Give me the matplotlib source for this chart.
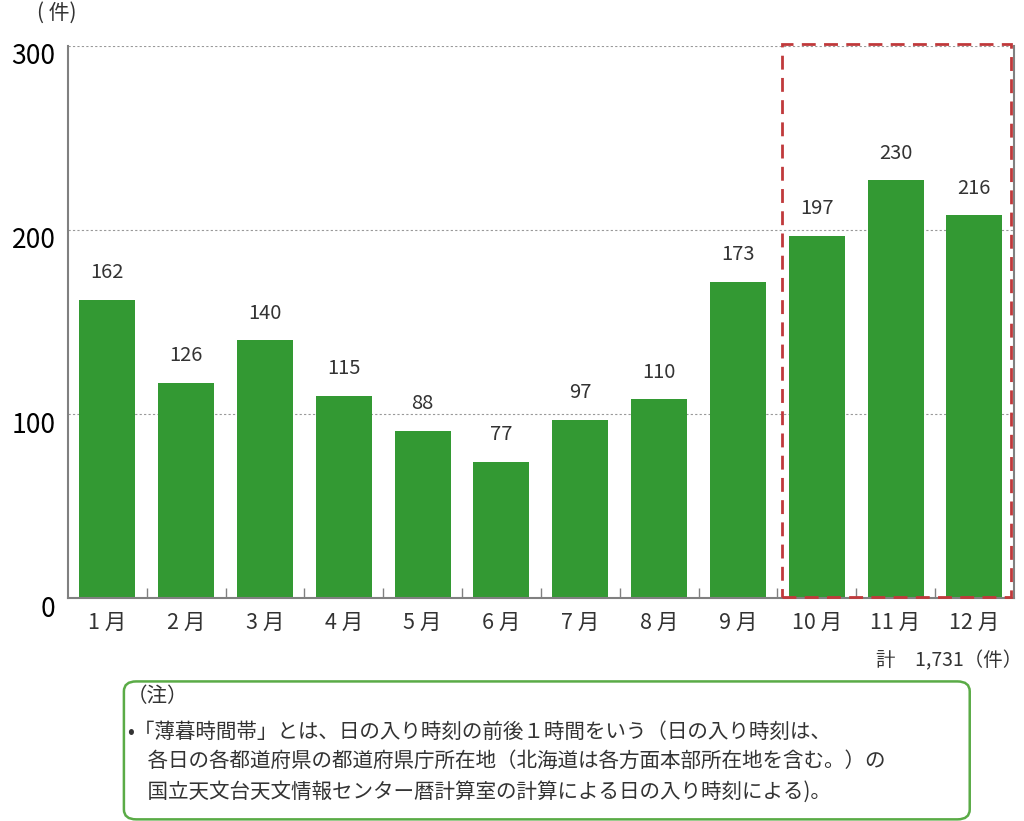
import matplotlib.pyplot as plt
from matplotlib.patches import Rectangle, FancyBboxPatch
from matplotlib.transforms import ScaledTranslation

plt.rcParams['font.family'] = ['Noto Sans CJK JP', 'DejaVu Sans']

months = ["1 月", "2 月", "3 月", "4 月", "5 月", "6 月",
          "7 月", "8 月", "9 月", "10 月", "11 月", "12 月"]
counts = [162, 126, 140, 115, 88, 77, 97, 110, 173, 197, 230, 216]
# bar heights as drawn in the source picture
heights = [162, 117, 140, 110, 91, 74, 97, 108, 172, 197, 227, 208]
yticks = [0, 100, 200, 300]
note_lines = [
    "（注）",
    "•「薄暮時間帯」とは、日の入り時刻の前後１時間をいう（日の入り時刻は、",
    "　各日の各都道府県の都道府県庁所在地（北海道は各方面本部所在地を含む。）の",
    "　国立天文台天文情報センター暦計算室の計算による日の入り時刻による)。",
]

green = "#339933"
grey = "#808080"

fig = plt.figure(figsize=(10.24, 8.21), dpi=100)
ax = fig.add_axes([0.0664, 0.2716, 0.9236, 0.6724])

x = list(range(len(months)))
ax.bar(x, heights, width=0.71, color=green, zorder=2)
for i, h in enumerate(heights):
    ax.text(i, h + 9, str(counts[i]), ha="center", va="bottom",
            fontsize=14.5, color="#333333")

ax.set_xlim(-0.5, 11.5)
ax.set_ylim(0, 300)
ax.set_yticks(yticks)
ax.set_yticklabels([str(v) for v in yticks], fontsize=19)
ax.tick_params(axis="y", length=0, pad=9)
shift = ScaledTranslation(0, -8 / 100, fig.dpi_scale_trans)
for lab in ax.get_yticklabels():
    lab.set_transform(lab.get_transform() + shift)
ax.set_xticks(x)
ax.set_xticklabels(months, fontsize=15.5, color="#333333")
ax.tick_params(axis="x", length=0, pad=10)
ax.set_xticks([i + 0.5 for i in range(11)], minor=True)
ax.tick_params(axis="x", which="minor", direction="in", length=7,
               color=grey, width=1)

for v in yticks[1:]:
    ax.axhline(v, color="#999999", lw=0.8, ls=(0, (2, 2)), zorder=1)

ax.spines["top"].set_visible(False)
for s in ["left", "bottom", "right"]:
    ax.spines[s].set_color(grey)
    ax.spines[s].set_linewidth(1.5)

box = Rectangle((8.56, 0.5), 11.47 - 8.56, 301 - 0.5, fill=False,
                ec="#c0393b", lw=2, ls=(0, (5, 3)), clip_on=False, zorder=3)
ax.add_patch(box)

fig.text(0.036, 0.984, "( 件)", fontsize=15, ha="left", va="center",
         color="#333333")
fig.text(0.998, 0.195, "計　1,731（件）", fontsize=14, ha="right", va="center",
         color="#333333")

note = FancyBboxPatch((0.121, 0.002), 0.826, 0.168,
                      boxstyle="round,pad=0,rounding_size=0.012",
                      transform=fig.transFigure, fill=False,
                      ec="#5aab46", lw=1.8)
fig.patches.append(note)
ys = [0.152, 0.109, 0.073, 0.036]
for line, yy in zip(note_lines, ys):
    fig.text(0.124, yy, line, fontsize=14.8, ha="left", va="center",
             color="#333333")

fig.savefig("out.png", dpi=100)
